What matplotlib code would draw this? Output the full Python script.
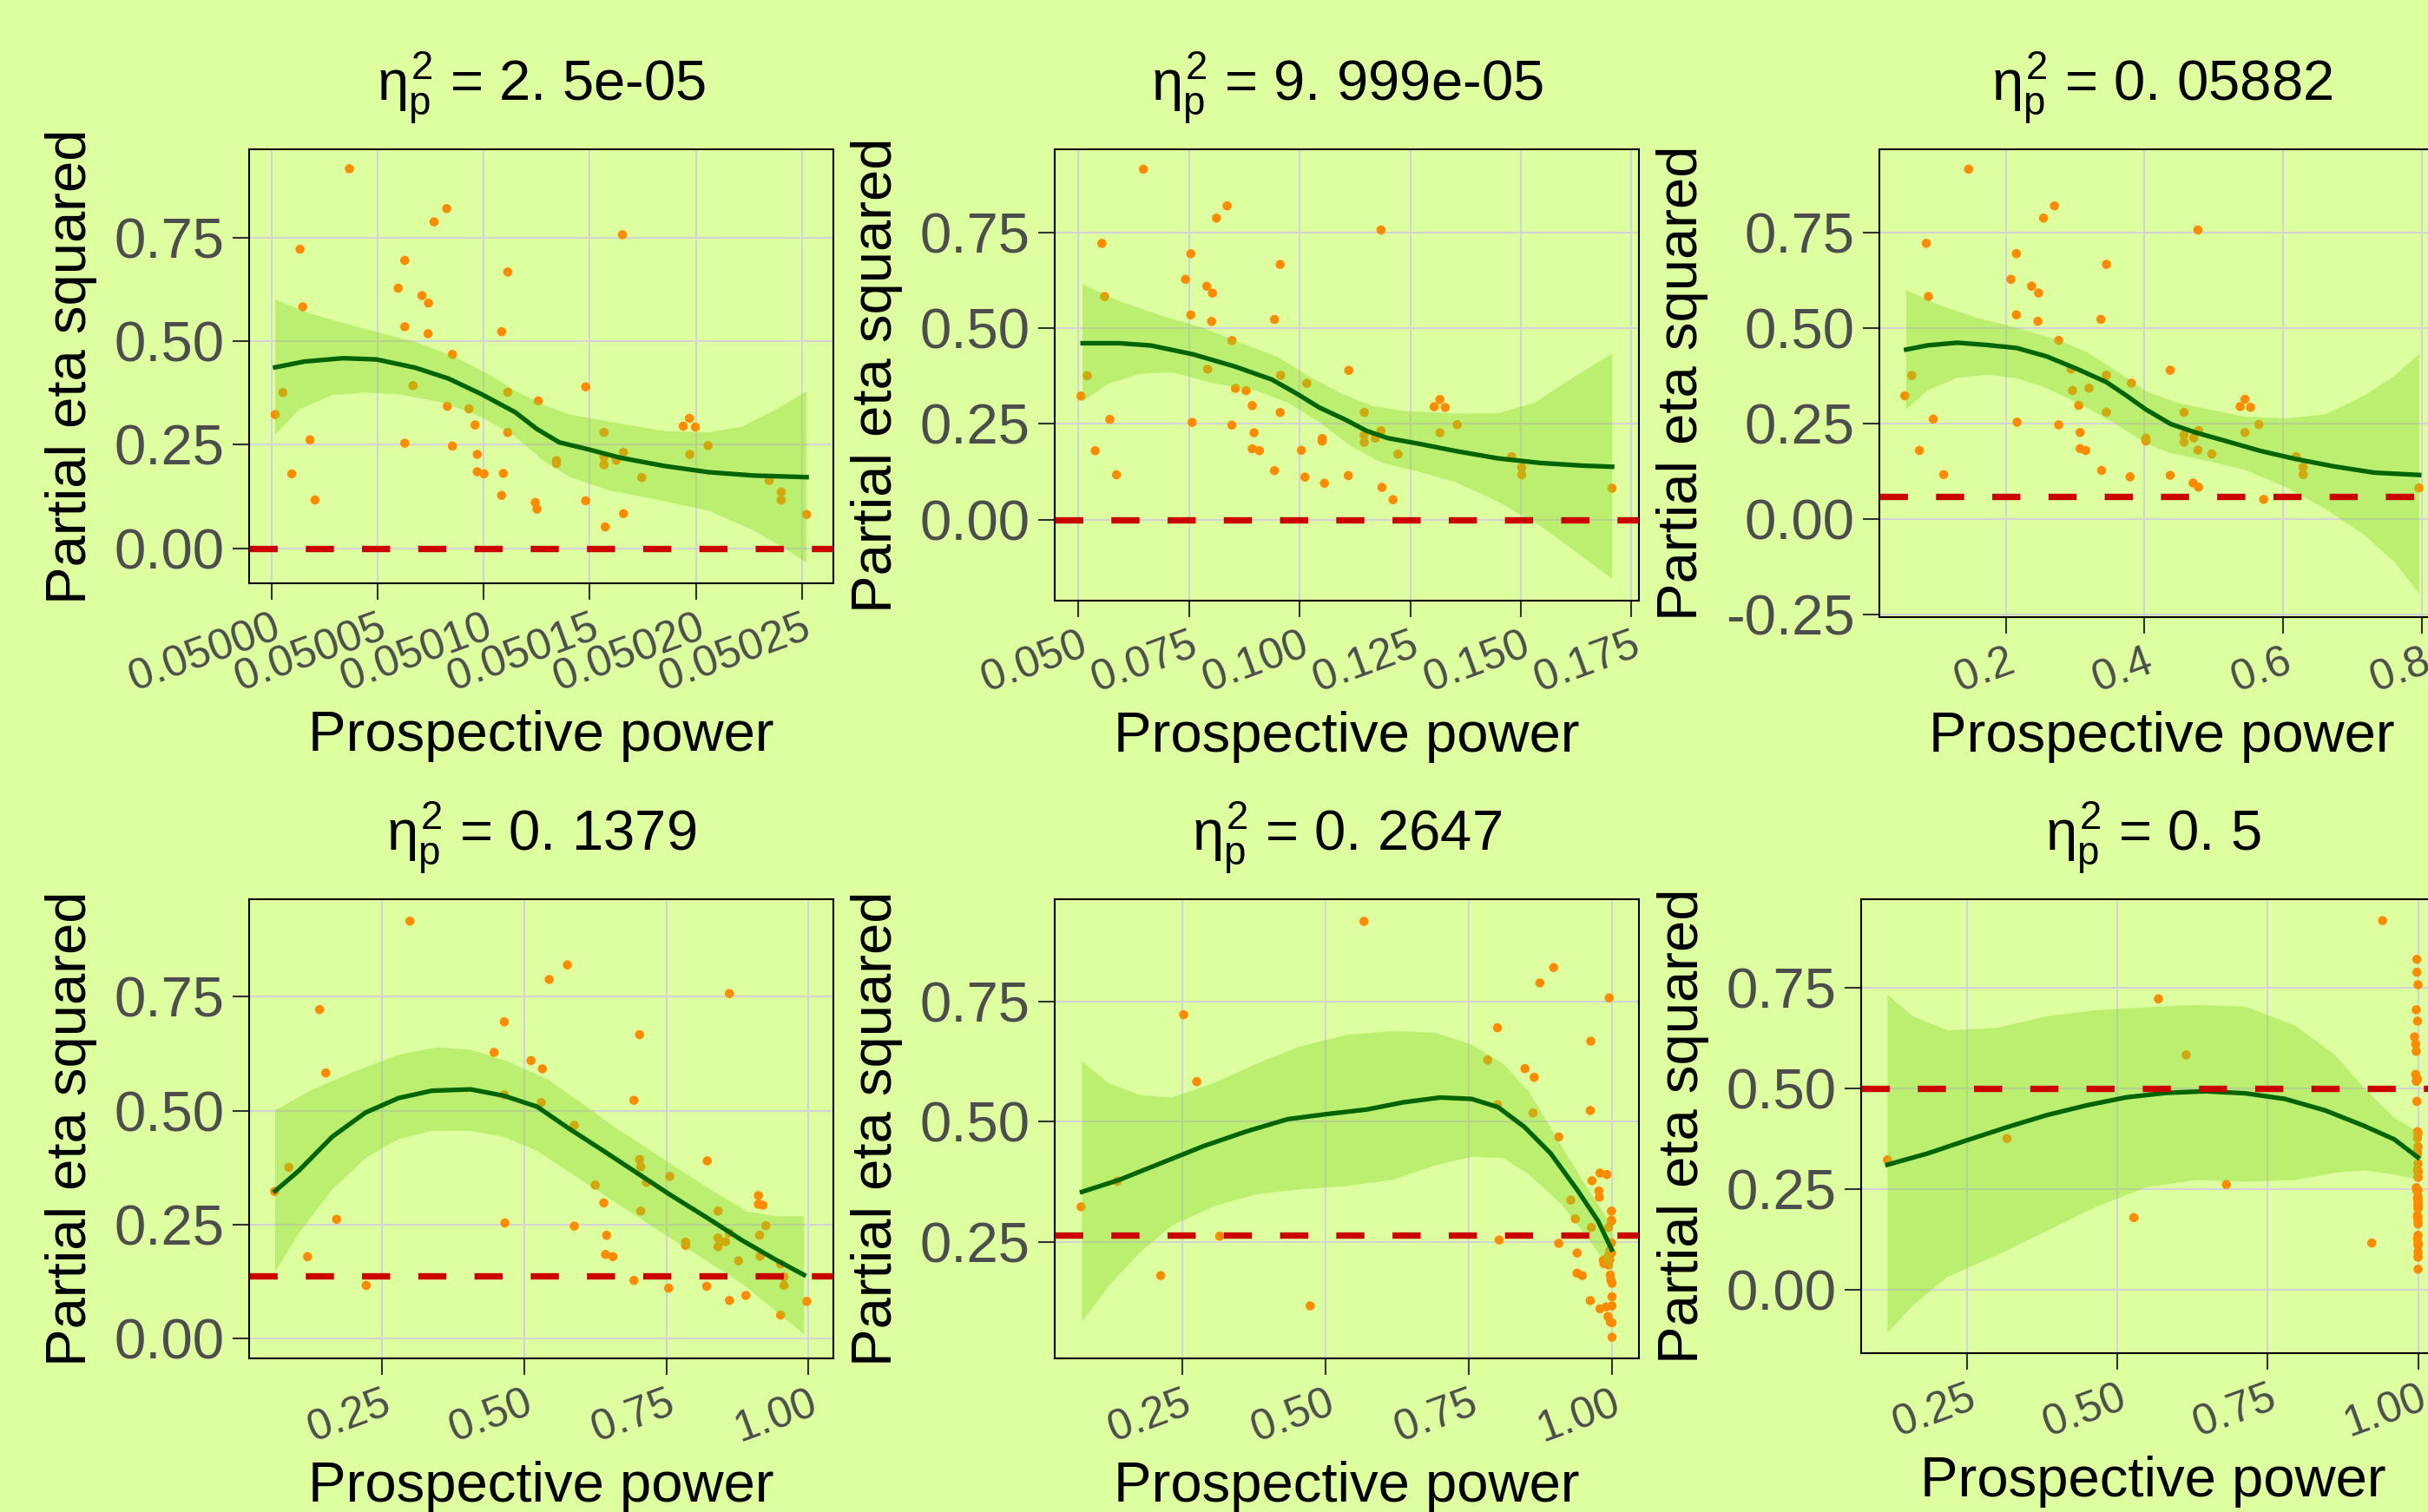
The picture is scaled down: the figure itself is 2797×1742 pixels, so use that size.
import matplotlib
matplotlib.use("Agg")
import matplotlib.pyplot as plt
import numpy as np

plt.rcParams['font.family'] = ['Liberation Sans', 'DejaVu Sans']
plt.rcParams['mathtext.fontset'] = 'custom'
plt.rcParams['mathtext.rm'] = 'Liberation Sans'
plt.rcParams['mathtext.it'] = 'Liberation Sans'
plt.rcParams['mathtext.bf'] = 'Liberation Sans:bold'

# observed partial eta squared of each study (same in every panel)
eta_obs = [0.323, 0.376, 0.180, 0.722, 0.583, 0.262, 0.117, 0.916, 0.628, 0.695,
           0.535, 0.254, 0.610, 0.592, 0.518, 0.788, 0.820, 0.468, 0.247, 0.393,
           0.337, 0.298, 0.227, 0.185, 0.180, 0.343, 0.523, 0.128, 0.667, 0.377,
           0.280, 0.111, 0.356, 0.212, 0.205, 0.390, 0.115, 0.280, 0.221, 0.202,
           0.095, 0.213, 0.757, 0.181, 0.232, 0.084, 0.171, 0.295, 0.314, 0.293,
           0.227, 0.248, 0.052, 0.164, 0.136, 0.117, 0.082]

# prospective power of each study for each assumed true effect
power_1 = [0.0500016, 0.0500052, 0.0500094, 0.0500133, 0.0500146, 0.0500180, 0.0500204, 0.0500366, 0.0500596, 0.0500627,
           0.0500627, 0.0500627, 0.0500708, 0.0500739, 0.0500737, 0.0500765, 0.0500825, 0.0500852, 0.0500852, 0.0500666,
           0.0500930, 0.0500959, 0.0500969, 0.0500969, 0.0501001, 0.0500828, 0.0501084, 0.0501084, 0.0501113, 0.0501113,
           0.0501113, 0.0501243, 0.0501257, 0.0501343, 0.0501343, 0.0501481, 0.0501481, 0.0501567, 0.0501567, 0.0501567,
           0.0501251, 0.0501625, 0.0501654, 0.0501092, 0.0501659, 0.0501659, 0.0501745, 0.0501941, 0.0501970, 0.0501998,
           0.0501972, 0.0502058, 0.0501573, 0.0502346, 0.0502403, 0.0502403, 0.0502523]
power_2 = [0.0506, 0.0520, 0.0538, 0.0553, 0.0559, 0.0571, 0.0586, 0.0647, 0.0742, 0.0754,
           0.0754, 0.0757, 0.0790, 0.0803, 0.0801, 0.0812, 0.0836, 0.0847, 0.0847, 0.0792,
           0.0879, 0.0893, 0.0897, 0.0893, 0.0909, 0.0855, 0.0943, 0.0943, 0.0956, 0.0957,
           0.0956, 0.1012, 0.1016, 0.1051, 0.1051, 0.1111, 0.1110, 0.1146, 0.1146, 0.1146,
           0.1056, 0.1171, 0.1184, 0.1004, 0.1184, 0.1186, 0.1222, 0.1304, 0.1317, 0.1329,
           0.1317, 0.1356, 0.1211, 0.1479, 0.1502, 0.1502, 0.1706]
power_3 = [0.054, 0.064, 0.075, 0.085, 0.088, 0.095, 0.110, 0.146, 0.207, 0.215,
           0.215, 0.216, 0.237, 0.247, 0.246, 0.254, 0.270, 0.276, 0.276, 0.294,
           0.296, 0.305, 0.307, 0.307, 0.315, 0.320, 0.337, 0.338, 0.345, 0.345,
           0.345, 0.379, 0.381, 0.402, 0.402, 0.437, 0.437, 0.457, 0.457, 0.457,
           0.470, 0.471, 0.477, 0.477, 0.478, 0.478, 0.497, 0.538, 0.545, 0.553,
           0.545, 0.565, 0.572, 0.619, 0.629, 0.629, 0.796]
power_4 = [0.061, 0.086, 0.119, 0.140, 0.151, 0.170, 0.222, 0.299, 0.447, 0.465,
           0.465, 0.466, 0.512, 0.532, 0.530, 0.544, 0.576, 0.588, 0.588, 0.703,
           0.625, 0.640, 0.645, 0.643, 0.656, 0.715, 0.693, 0.693, 0.703, 0.705,
           0.705, 0.754, 0.756, 0.784, 0.784, 0.822, 0.821, 0.841, 0.841, 0.841,
           0.890, 0.854, 0.861, 0.915, 0.861, 0.861, 0.877, 0.912, 0.912, 0.920,
           0.914, 0.925, 0.951, 0.951, 0.957, 0.957, 0.997]
power_5 = [0.073, 0.136, 0.212, 0.252, 0.275, 0.315, 0.473, 0.567, 0.783, 0.800,
           0.800, 0.803, 0.848, 0.864, 0.862, 0.874, 0.898, 0.907, 0.907, 0.979,
           0.928, 0.936, 0.939, 0.939, 0.948, 0.978, 0.962, 0.962, 0.963, 0.965,
           0.964, 0.979, 0.977, 0.985, 0.986, 0.991, 0.990, 0.994, 0.994, 0.994,
           0.993, 0.996, 0.995, 0.997, 0.996, 0.997, 0.998, 0.999, 0.999, 0.999,
           0.999, 0.999, 1.000, 1.000, 1.000, 1.000, 1.000]
power_6 = [0.117, 0.316, 0.527, 0.568, 0.614, 0.681, 0.923, 0.941, 0.994, 0.997,
           0.996, 0.997, 0.996, 0.997, 0.997, 0.998, 0.998, 0.998, 0.998, 0.999,
           0.999, 0.999, 0.999, 0.999, 0.999, 0.999, 0.999, 0.999, 0.999, 0.999,
           1.000, 1.000, 1.000, 1.000, 1.000, 1.000, 1.000, 1.000, 1.000, 1.000,
           1.000, 1.000, 1.000, 1.000, 1.000, 1.000, 1.000, 1.000, 1.000, 1.000,
           1.000, 1.000, 1.000, 1.000, 1.000, 1.000, 1.000]

true_eta = [2.5e-05, 9.999e-05, 0.05882, 0.1379, 0.2647, 0.5]
true_lab = ["2. 5e-05", "9. 999e-05", "0. 05882", "0. 1379", "0. 2647", "0. 5"]

# loess fit (mid) and its confidence band (hi / lo)
mid_x1 = [0.0500016, 0.0500154, 0.0500337, 0.0500494, 0.0500677, 0.0500833, 0.0500990, 0.0501147,
          0.0501251, 0.0501356, 0.0501486, 0.0501643, 0.0501852, 0.0502061, 0.0502270, 0.0502523]
mid_y1 = [0.437, 0.451, 0.459, 0.456, 0.436, 0.410, 0.372, 0.329, 0.288, 0.256, 0.240, 0.219, 0.199, 0.184, 0.176, 0.172]
hi_x1 = [0.0500016, 0.0500180, 0.0500415, 0.0500677, 0.0500859, 0.0501016, 0.0501147, 0.0501277,
         0.0501408, 0.0501591, 0.0501852, 0.0502061, 0.0502218, 0.0502375, 0.0502523]
hi_y1 = [0.600, 0.567, 0.533, 0.498, 0.463, 0.422, 0.381, 0.347, 0.323, 0.306, 0.283, 0.280, 0.294, 0.335, 0.379]
lo_x1 = [0.0500016, 0.0500128, 0.0500285, 0.0500441, 0.0500598, 0.0500807, 0.0500990, 0.0501147,
         0.0501277, 0.0501408, 0.0501591, 0.0501852, 0.0502061, 0.0502270, 0.0502427, 0.0502523]
lo_y1 = [0.274, 0.335, 0.370, 0.376, 0.372, 0.352, 0.317, 0.271, 0.213, 0.172, 0.140, 0.114, 0.091, 0.044, -0.002, -0.035]

mid_x2 = [0.05095, 0.05927, 0.06640, 0.07590, 0.08541, 0.09373, 0.09967, 0.10442, 0.11036, 0.11511,
          0.11987, 0.12700, 0.13532, 0.14482, 0.15433, 0.16383, 0.17061]
mid_y2 = [0.461, 0.461, 0.455, 0.432, 0.400, 0.366, 0.327, 0.293, 0.261, 0.232, 0.213, 0.198, 0.179, 0.160, 0.148, 0.141, 0.138]
hi_x2 = [0.05095, 0.05927, 0.06877, 0.07828, 0.08779, 0.09491, 0.10204, 0.10917, 0.11630, 0.12343,
         0.13532, 0.14482, 0.15314, 0.16146, 0.17061]
hi_y2 = [0.615, 0.571, 0.533, 0.501, 0.457, 0.426, 0.375, 0.331, 0.297, 0.284, 0.277, 0.278, 0.306, 0.369, 0.434]
lo_x2 = [0.05095, 0.05689, 0.06402, 0.07115, 0.08066, 0.09016, 0.09729, 0.10442, 0.11155, 0.11868,
         0.12700, 0.13532, 0.14482, 0.15433, 0.16264, 0.17061]
lo_y2 = [0.309, 0.356, 0.381, 0.385, 0.356, 0.337, 0.306, 0.255, 0.192, 0.148, 0.125, 0.097, 0.047, -0.016, -0.086, -0.155]

mid_x3 = [0.0559, 0.0867, 0.1297, 0.1728, 0.2158, 0.2588, 0.3018, 0.3448, 0.3735, 0.4022,
          0.4380, 0.4738, 0.5168, 0.5670, 0.6172, 0.6746, 0.7319, 0.7964]
mid_y3 = [0.444, 0.455, 0.462, 0.456, 0.448, 0.426, 0.394, 0.359, 0.324, 0.287,
          0.249, 0.227, 0.205, 0.179, 0.158, 0.138, 0.122, 0.116]
hi_x3 = [0.0559, 0.1011, 0.1584, 0.2158, 0.2731, 0.3161, 0.3591, 0.4022, 0.4452, 0.4882,
         0.5455, 0.6029, 0.6602, 0.7176, 0.7606, 0.7964]
hi_y3 = [0.600, 0.562, 0.527, 0.501, 0.470, 0.438, 0.388, 0.335, 0.306, 0.289,
         0.268, 0.264, 0.274, 0.324, 0.375, 0.432]
lo_x3 = [0.0559, 0.0867, 0.1297, 0.1728, 0.2158, 0.2588, 0.3161, 0.3591, 0.4022, 0.4380,
         0.4882, 0.5455, 0.6029, 0.6602, 0.7176, 0.7606, 0.7964]
lo_y3 = [0.287, 0.337, 0.370, 0.378, 0.369, 0.343, 0.293, 0.249, 0.198, 0.173,
         0.154, 0.129, 0.085, 0.028, -0.042, -0.111, -0.195]

mid_x4 = [0.0620, 0.1039, 0.1623, 0.2208, 0.2792, 0.3377, 0.4058, 0.4643, 0.5227, 0.5812,
          0.6396, 0.6980, 0.7565, 0.8247, 0.8831, 0.9415, 0.9922]
mid_y4 = [0.324, 0.369, 0.443, 0.496, 0.528, 0.544, 0.547, 0.533, 0.509, 0.459,
          0.412, 0.364, 0.316, 0.263, 0.216, 0.174, 0.140]
hi_x4 = [0.0620, 0.1234, 0.2013, 0.2792, 0.3474, 0.4058, 0.4740, 0.5422, 0.6006, 0.6591,
         0.7175, 0.7760, 0.8344, 0.8928, 0.9415, 0.9922]
hi_y4 = [0.501, 0.544, 0.586, 0.623, 0.639, 0.634, 0.607, 0.568, 0.517, 0.464,
         0.417, 0.369, 0.322, 0.279, 0.269, 0.269]
lo_x4 = [0.0620, 0.1039, 0.1623, 0.2208, 0.2792, 0.3377, 0.4058, 0.4643, 0.5227, 0.5812,
         0.6396, 0.6980, 0.7565, 0.8247, 0.8831, 0.9415, 0.9922]
lo_y4 = [0.147, 0.232, 0.327, 0.396, 0.438, 0.456, 0.456, 0.443, 0.412, 0.364,
         0.316, 0.269, 0.221, 0.168, 0.121, 0.062, 0.010]

mid_x5 = [0.0746, 0.1398, 0.2133, 0.2867, 0.3602, 0.4337, 0.4979, 0.5714, 0.6357, 0.6999,
          0.7551, 0.8010, 0.8469, 0.8928, 0.9387, 0.9754, 0.9995]
mid_y5 = [0.354, 0.379, 0.414, 0.449, 0.479, 0.505, 0.515, 0.525, 0.540, 0.550,
          0.547, 0.530, 0.489, 0.434, 0.359, 0.294, 0.234]
hi_x5 = [0.0746, 0.1214, 0.1765, 0.2316, 0.3051, 0.3786, 0.4520, 0.5347, 0.6173, 0.6908,
         0.7551, 0.8102, 0.8561, 0.9020, 0.9479, 0.9995]
hi_y5 = [0.625, 0.580, 0.555, 0.550, 0.580, 0.620, 0.655, 0.680, 0.688, 0.685,
         0.660, 0.620, 0.560, 0.469, 0.379, 0.284]
lo_x5 = [0.0746, 0.1214, 0.1765, 0.2316, 0.3051, 0.3786, 0.4520, 0.5347, 0.6173, 0.6908,
         0.7551, 0.8102, 0.8561, 0.9112, 0.9571, 0.9995]
lo_y5 = [0.084, 0.159, 0.229, 0.284, 0.324, 0.349, 0.359, 0.366, 0.379, 0.409,
         0.427, 0.424, 0.389, 0.329, 0.259, 0.189]

mid_x6 = [0.1170, 0.1839, 0.2500, 0.3161, 0.3822, 0.4482, 0.5143, 0.5804, 0.6465, 0.7125,
          0.7786, 0.8447, 0.9108, 0.9603, 0.9999]
mid_y6 = [0.311, 0.339, 0.372, 0.404, 0.434, 0.458, 0.478, 0.489, 0.493, 0.488,
          0.474, 0.446, 0.407, 0.374, 0.329]
hi_x6 = [0.1170, 0.1591, 0.2170, 0.2996, 0.3822, 0.4648, 0.5474, 0.6299, 0.7125, 0.7951,
         0.8612, 0.9108, 0.9603, 0.9999]
hi_y6 = [0.733, 0.679, 0.644, 0.650, 0.679, 0.694, 0.701, 0.707, 0.703, 0.656,
         0.584, 0.500, 0.428, 0.392]
lo_x6 = [0.1170, 0.1591, 0.2170, 0.2996, 0.3822, 0.4648, 0.5474, 0.6299, 0.7125, 0.7951,
         0.8612, 0.9108, 0.9603, 0.9999]
lo_y6 = [-0.106, -0.038, 0.033, 0.087, 0.147, 0.207, 0.255, 0.273, 0.269, 0.273,
         0.291, 0.297, 0.287, 0.273]

x_ticks = [[0.05000, 0.05005, 0.05010, 0.05015, 0.05020, 0.05025],
           [0.050, 0.075, 0.100, 0.125, 0.150, 0.175],
           [0.2, 0.4, 0.6, 0.8],
           [0.25, 0.50, 0.75, 1.00],
           [0.25, 0.50, 0.75, 1.00],
           [0.25, 0.50, 0.75, 1.00]]
x_fmt = ["%.5f", "%.3f", "%.1f", "%.2f", "%.2f", "%.2f"]
y_ticks = [[0.00, 0.25, 0.50, 0.75],
           [0.00, 0.25, 0.50, 0.75],
           [-0.25, 0.00, 0.25, 0.50, 0.75],
           [0.00, 0.25, 0.50, 0.75],
           [0.25, 0.50, 0.75],
           [0.00, 0.25, 0.50, 0.75]]

powers = [power_1, power_2, power_3, power_4, power_5, power_6]
fits = [(mid_x1, mid_y1, hi_x1, hi_y1, lo_x1, lo_y1),
        (mid_x2, mid_y2, hi_x2, hi_y2, lo_x2, lo_y2),
        (mid_x3, mid_y3, hi_x3, hi_y3, lo_x3, lo_y3),
        (mid_x4, mid_y4, hi_x4, hi_y4, lo_x4, lo_y4),
        (mid_x5, mid_y5, hi_x5, hi_y5, lo_x5, lo_y5),
        (mid_x6, mid_y6, hi_x6, hi_y6, lo_x6, lo_y6)]

# panel boxes in pixels (left, top, right, bottom); the right column runs off the image
W, H = 2797, 1742
boxes = [(287, 172, 960, 672), (1215, 172, 1888, 692), (2165, 172, 2816, 711),
         (287, 1036, 960, 1565), (1215, 1036, 1888, 1565), (2144, 1036, 2816, 1559)]
xlims = [(0.0499893, 0.0502649), (0.04465, 0.17667), (0.0172, 0.833),
         (0.0162, 1.0438), (0.0269, 1.047), (0.0732, 1.044)]
ylims = [(-0.084, 0.963), (-0.212, 0.968), (-0.256, 0.968),
         (-0.043, 0.964), (0.008, 0.962), (-0.156, 0.969)]

bg = '#DDFFA0'
fig = plt.figure(figsize=(W / 100, H / 100), dpi=100, facecolor=bg)

for i in range(6):
    l, t, r, b = boxes[i]
    ax = fig.add_axes([l / W, 1 - b / H, (r - l) / W, (b - t) / H])
    ax.set_facecolor(bg)
    ax.set_axisbelow(True)
    ax.grid(True, color='#D3D3D3', lw=1.5)

    ax.scatter(powers[i], eta_obs, s=58, color='#FF8C00', edgecolors='none', zorder=2)

    mx, my, hx, hy, lx, ly = fits[i]
    ax.fill(np.concatenate([hx, lx[::-1]]), np.concatenate([hy, ly[::-1]]),
            color=(139 / 255, 213 / 255, 40 / 255), alpha=0.4, lw=0, zorder=3)
    ax.plot(mx, my, color='#006400', lw=3.8, zorder=4)
    ax.axhline(true_eta[i], color='#CC0000', lw=5.3, dashes=(4.4, 4.4), zorder=5)

    ax.set_xlim(xlims[i])
    ax.set_ylim(ylims[i])
    ax.set_xticks(x_ticks[i])
    ax.set_xticklabels([x_fmt[i] % v for v in x_ticks[i]])
    ax.set_yticks(y_ticks[i])
    ax.set_yticklabels(["%.2f" % v for v in y_ticks[i]])
    ax.tick_params(axis='both', length=13.5, width=1.5, color='#333333',
                   labelcolor='#4D4D4D', pad=7)
    ax.tick_params(axis='y', labelsize=47)
    ax.tick_params(axis='x', labelsize=36)
    plt.setp(ax.get_xticklabels(), rotation=20, ha='right', rotation_mode='anchor')
    for sp in ax.spines.values():
        sp.set_linewidth(1.5)
        sp.set_color('black')

    ax.set_xlabel('Prospective power', fontsize=47, labelpad=9)
    ax.set_ylabel('Partial eta squared', fontsize=47, labelpad=14)
    ax.set_title(r'$\eta_{p}^{2}$ = ' + true_lab[i], fontsize=47, pad=40)

fig.savefig('out.png', dpi=100, facecolor=bg)
